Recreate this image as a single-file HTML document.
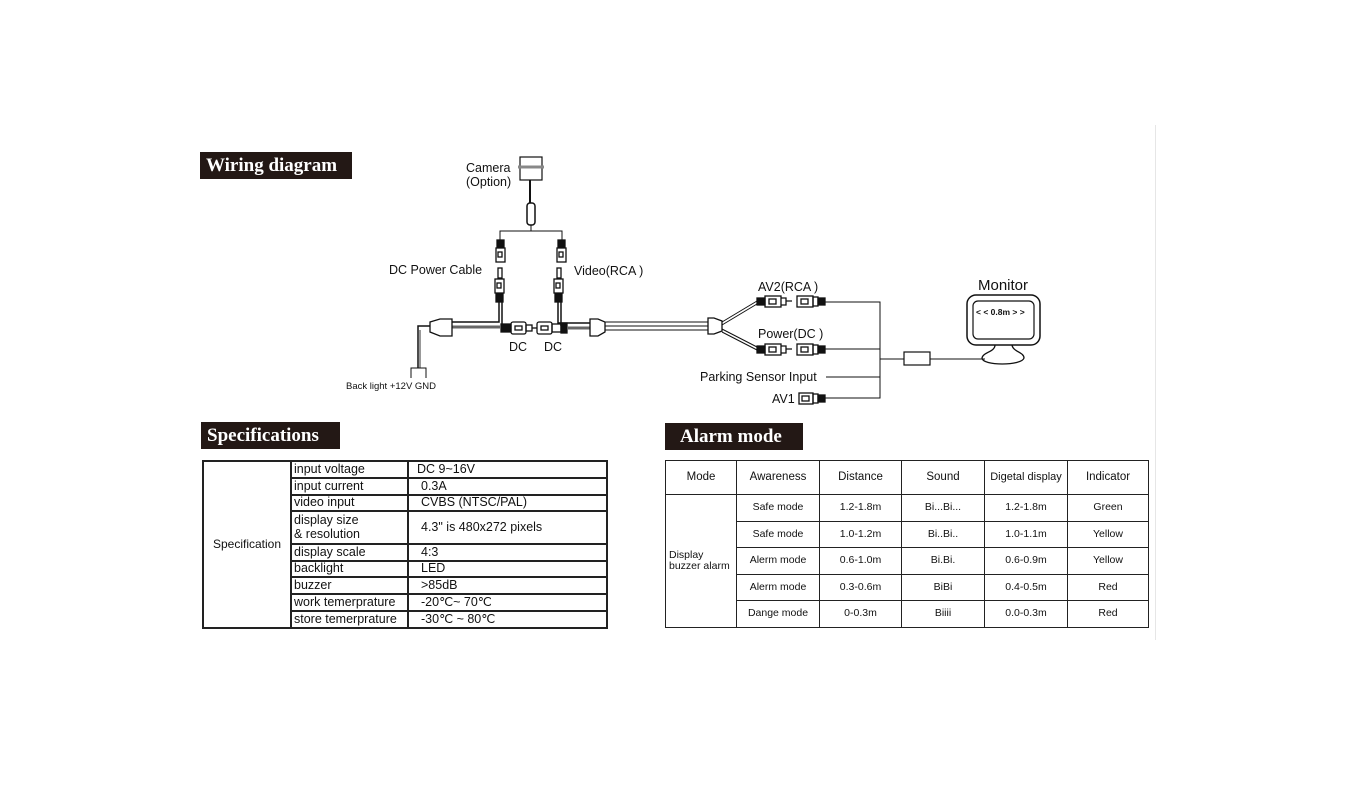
<!DOCTYPE html>
<html><head><meta charset="utf-8"><style>
body{margin:0;width:1348px;height:793px;background:#fff;position:relative;overflow:hidden;font-family:"Liberation Sans",sans-serif;color:#111}
.t{position:absolute;background:#231815;color:#fff;font-family:"Liberation Serif",serif;font-weight:bold;font-size:19px;line-height:27px;padding-left:6px;box-sizing:border-box}
table{position:absolute;border-collapse:collapse;table-layout:fixed}
td{border:2px solid #222;padding:0 2px;font-size:12.5px;line-height:1.05;white-space:nowrap;vertical-align:middle}
#al td{text-align:center;font-size:10.5px;padding:0;border-width:1.5px}
</style></head><body>
<div class="t" style="left:200px;top:152px;width:152px;height:27px">Wiring diagram</div>
<div class="t" style="left:201px;top:422px;width:139px;height:27px">Specifications</div>
<div class="t" style="left:665px;top:423px;width:138px;height:27px;padding-left:15px">Alarm mode</div>
<div style="position:absolute;left:1155px;top:125px;width:1px;height:515px;background:#e6e6e6"></div>

<svg width="1348" height="793" style="position:absolute;left:0;top:0" font-family="Liberation Sans, sans-serif" fill="none" stroke="#111" stroke-width="1">
<g fill="#111" stroke="none" font-size="12.5">
<text x="466" y="172">Camera</text><text x="466" y="186">(Option)</text>
<text x="389" y="274">DC Power Cable</text><text x="574" y="275">Video(RCA )</text>
<text x="509" y="351">DC</text><text x="544" y="351">DC</text>
<text x="346" y="389" font-size="9.5">Back light +12V  GND</text>
<text x="758" y="291">AV2(RCA )</text><text x="758" y="338">Power(DC )</text>
<text x="700" y="381">Parking Sensor Input</text><text x="772" y="403">AV1</text>
<text x="978" y="290" font-size="15">Monitor</text>
<text x="976" y="315" font-size="8.5" font-weight="bold">&lt; &lt; 0.8m &gt; &gt;</text>
</g>
<rect x="520" y="157" width="22" height="23" stroke-width="1.2"/><line x1="518" y1="167" x2="544" y2="167" stroke="#888" stroke-width="3"/>
<line x1="530" y1="180" x2="530" y2="203" stroke-width="2"/>
<rect x="527" y="203" width="8" height="22" rx="3" stroke-width="1.5"/>
<line x1="531" y1="225" x2="531" y2="231"/>
<path d="M500 243V231H562V243"/>
<g stroke-width="1.3">
<rect x="497" y="240" width="7" height="7" fill="#111"/><rect x="496" y="248" width="9" height="14"/><rect x="498" y="252" width="4" height="5"/>
<rect x="558" y="240" width="7" height="7" fill="#111"/><rect x="557" y="248" width="9" height="14"/><rect x="559" y="252" width="4" height="5"/>
<rect x="498" y="268" width="4" height="10"/><rect x="495" y="279" width="9" height="14"/><rect x="497" y="283" width="4" height="5"/><rect x="496" y="294" width="7" height="8" fill="#111"/>
<rect x="557" y="268" width="4" height="10"/><rect x="554" y="279" width="9" height="14"/><rect x="556" y="283" width="4" height="5"/><rect x="555" y="294" width="7" height="8" fill="#111"/>
</g>
<path d="M499 302V322H452M502 302V324" stroke-width="1.5"/>
<path d="M558 302V323H590M561 302V326" stroke-width="1.5"/>
<path d="M452 327H500M568 328H590" stroke="#666" stroke-width="3"/>
<path d="M452 319H440L430 322V332L440 336H452Z" stroke-width="1.3"/>
<path d="M430 326H418V368" stroke-width="1.5"/><path d="M420 330V368" stroke="#777" stroke-width="1.5"/>
<path d="M411 378V368H426V378"/>
<g stroke-width="1.3">
<rect x="501" y="324" width="10" height="8" fill="#111"/><rect x="511" y="322" width="15" height="12" rx="2"/><rect x="515" y="326" width="7" height="4"/><rect x="526" y="325" width="6" height="6"/>
<line x1="532" y1="328" x2="537" y2="328"/>
<rect x="537" y="322" width="15" height="12" rx="2"/><rect x="541" y="326" width="7" height="4"/><rect x="552" y="324" width="9" height="8"/><rect x="561" y="323" width="6" height="10" fill="#111"/>
</g>
<path d="M590 319H598L605 322V332L598 336H590Z" stroke-width="1.3"/>
<path d="M605 322H708M605 326H708M605 330H708" stroke-width="1"/>
<path d="M708 318H714L722 321V331L714 334H708Z" stroke-width="1.3"/>
<path d="M722 322L757 301M722 325L757 304M722 329L757 347M722 332L757 350" stroke-width="1"/>
<g stroke-width="1.3">
<rect x="757" y="298" width="8" height="7" fill="#111"/><rect x="765" y="296" width="16" height="11"/><rect x="769" y="299" width="7" height="5"/><path d="M781 298H786V305H781M786 301H792"/>
<rect x="797" y="296" width="16" height="11"/><rect x="801" y="299" width="7" height="5"/><rect x="813" y="297" width="5" height="9"/><rect x="818" y="298" width="7" height="7" fill="#111"/>
<rect x="757" y="346" width="8" height="7" fill="#111"/><rect x="765" y="344" width="16" height="11"/><rect x="769" y="347" width="7" height="5"/><path d="M781 346H786V353H781M786 349H792"/>
<rect x="797" y="344" width="16" height="11"/><rect x="801" y="347" width="7" height="5"/><rect x="813" y="345" width="5" height="9"/><rect x="818" y="346" width="7" height="7" fill="#111"/>
<rect x="799" y="393" width="14" height="11"/><rect x="802" y="396" width="7" height="5"/><rect x="813" y="394" width="5" height="9"/><rect x="818" y="395" width="7" height="7" fill="#111"/>
</g>
<path d="M825 302H880V398H825M825 349H880M826 377H880M880 359H904M930 359H985" stroke-width="1"/>
<rect x="904" y="352" width="26" height="13" stroke-width="1.2"/>
<rect x="967" y="295" width="73" height="50" rx="9" stroke-width="1.5"/>
<rect x="973" y="301" width="61" height="38" rx="5" stroke-width="1.2"/>
<path d="M995 345C995 352 983 352 982 358C982 366 1022 366 1024 358C1024 352 1013 352 1012 345" stroke-width="1.3"/>
</svg>

<table style="left:202px;top:460px;width:404px;height:168px">
<colgroup><col style="width:88px"><col style="width:117px"><col style="width:199px"></colgroup>
<tr style="height:17px"><td rowspan="9" style="text-align:center;font-size:12px">Specification</td><td>input voltage</td><td style="padding-left:8px">DC 9~16V</td></tr>
<tr style="height:17px"><td>input current</td><td style="padding-left:12px">0.3A</td></tr>
<tr style="height:16px"><td>video input</td><td style="padding-left:12px">CVBS (NTSC/PAL)</td></tr>
<tr style="height:33px"><td>display size<br>&amp; resolution</td><td style="padding-left:12px">4.3" is 480x272 pixels</td></tr>
<tr style="height:17px"><td>display scale</td><td style="padding-left:12px">4:3</td></tr>
<tr style="height:16px"><td>backlight</td><td style="padding-left:12px">LED</td></tr>
<tr style="height:17px"><td>buzzer</td><td style="padding-left:12px">&gt;85dB</td></tr>
<tr style="height:17px"><td>work temerprature</td><td style="padding-left:12px">-20℃~ 70℃</td></tr>
<tr style="height:17px"><td>store temerprature</td><td style="padding-left:12px">-30℃ ~ 80℃</td></tr>
</table>

<table id="al" style="left:665px;top:460px;width:483px;height:167px">
<colgroup><col style="width:71px"><col style="width:83px"><col style="width:82px"><col style="width:83px"><col style="width:83px"><col style="width:81px"></colgroup>
<tr style="height:34px"><td style="font-size:11.5px">Mode</td><td style="font-size:11.5px">Awareness</td><td style="font-size:11.5px">Distance</td><td style="font-size:11.5px">Sound</td><td style="font-size:11px">Digetal display</td><td style="font-size:11.5px">Indicator</td></tr>
<tr style="height:27px"><td rowspan="5" style="text-align:left;padding-left:3px">Display<br>buzzer alarm</td><td>Safe mode</td><td>1.2-1.8m</td><td>Bi...Bi...</td><td>1.2-1.8m</td><td>Green</td></tr>
<tr style="height:26px"><td>Safe mode</td><td>1.0-1.2m</td><td>Bi..Bi..</td><td>1.0-1.1m</td><td>Yellow</td></tr>
<tr style="height:27px"><td>Alerm mode</td><td>0.6-1.0m</td><td>Bi.Bi.</td><td>0.6-0.9m</td><td>Yellow</td></tr>
<tr style="height:26px"><td>Alerm mode</td><td>0.3-0.6m</td><td>BiBi</td><td>0.4-0.5m</td><td>Red</td></tr>
<tr style="height:27px"><td>Dange mode</td><td>0-0.3m</td><td>Biiii</td><td>0.0-0.3m</td><td>Red</td></tr>
</table>
</body></html>
